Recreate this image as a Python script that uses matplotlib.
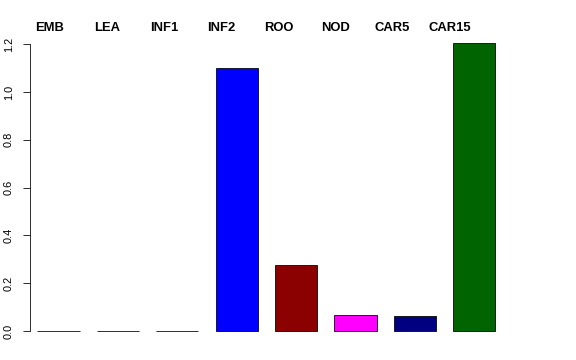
import matplotlib.pyplot as plt

tissues = ['EMB', 'LEA', 'INF1', 'INF2', 'ROO', 'NOD', 'CAR5', 'CAR15']
values = [0.001, 0.001, 0.001, 1.10, 0.275, 0.067, 0.063, 1.205]
colors = ['gray', 'gray', 'gray', '#0000FF', '#8B0000', '#FF00FF', '#000080', '#006400']

plt.rcParams['font.family'] = ['Liberation Sans', 'DejaVu Sans']

fig = plt.figure(figsize=(8, 5), dpi=72)
ax = fig.add_axes([30 / 576, 15 / 360, 515 / 576, 315 / 360])

x = list(range(len(tissues)))
ax.bar(x, values, width=0.71, color=colors, edgecolor='black', linewidth=0.8)

ax.set_xlim(-0.48, 8.19)
ax.set_ylim(-0.0586, 1.259)

for s in ['top', 'right', 'bottom']:
    ax.spines[s].set_visible(False)
ax.spines['left'].set_bounds(0, 1.2)
ax.spines['left'].set_linewidth(0.8)
ax.set_xticks([])
ax.set_yticks([0, 0.2, 0.4, 0.6, 0.8, 1.0, 1.2])
ax.set_yticklabels(['0.0', '0.2', '0.4', '0.6', '0.8', '1.0', '1.2'],
                   rotation=90, va='center', fontsize=11)
ax.tick_params(axis='y', length=7, width=0.8, pad=9)

# tissue names along the top
for i, name in enumerate(tissues):
    ax.text(i * 0.961 - 0.143, 1.268, name, ha='center', va='center',
            fontsize=13, fontweight='bold', clip_on=False)

fig.savefig('out.png', dpi=72)
